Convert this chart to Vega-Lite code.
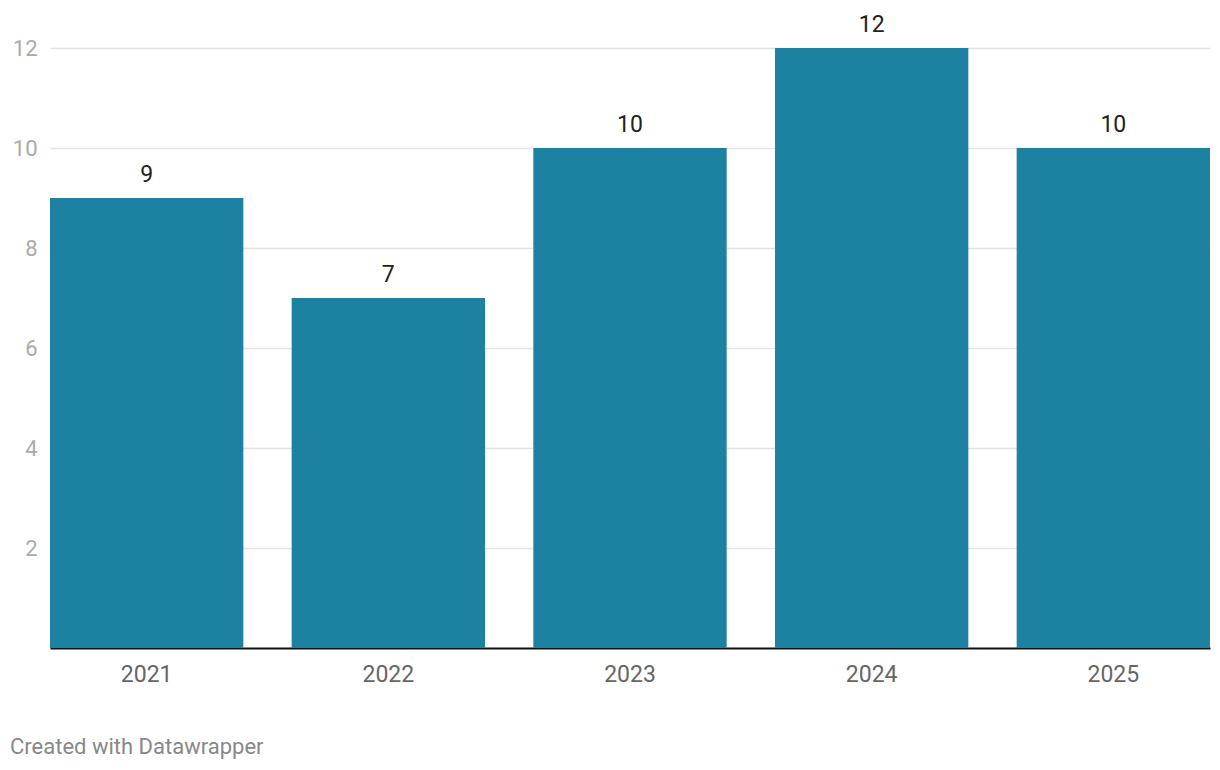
{
  "$schema": "https://vega.github.io/schema/vega-lite/v6.json",
  "width": 1160,
  "height": 600,
  "autosize": {"type": "none"},
  "padding": {"left": 50, "top": 48, "right": 10, "bottom": 122},
  "background": "white",
  "config": {
    "font": "Roboto",
    "view": {"stroke": null}
  },
  "title": {
    "text": "Created with Datawrapper",
    "orient": "bottom",
    "anchor": "start",
    "frame": "group",
    "dx": -40,
    "offset": 51,
    "fontSize": 22,
    "fontWeight": "normal",
    "color": "#888888",
    "font": "Roboto"
  },
  "data": {
    "values": [
      {"year": "2021", "value": 9},
      {"year": "2022", "value": 7},
      {"year": "2023", "value": 10},
      {"year": "2024", "value": 12},
      {"year": "2025", "value": 10}
    ]
  },
  "encoding": {
    "x": {
      "field": "year",
      "type": "nominal",
      "sort": null,
      "scale": {"paddingInner": 0.2, "paddingOuter": 0},
      "axis": {
        "title": null,
        "labelAngle": 0,
        "labelFontSize": 23,
        "labelColor": "#666666",
        "labelPadding": 15,
        "ticks": false,
        "domainColor": "#111111",
        "domainWidth": 2,
        "grid": false
      }
    },
    "y": {
      "field": "value",
      "type": "quantitative",
      "scale": {"domain": [0, 12], "nice": false},
      "axis": {
        "title": null,
        "values": [2, 4, 6, 8, 10, 12],
        "labelFontSize": 22,
        "labelColor": "#aaaaaa",
        "labelPadding": 13,
        "ticks": false,
        "domain": false,
        "gridColor": "#e3e3e3",
        "gridWidth": 1.5
      }
    }
  },
  "layer": [
    {"mark": {"type": "bar", "color": "#1d81a2"}},
    {
      "mark": {"type": "text", "baseline": "alphabetic", "dy": -16, "fontSize": 23, "color": "#222222"},
      "encoding": {"text": {"field": "value", "type": "quantitative"}}
    }
  ]
}
